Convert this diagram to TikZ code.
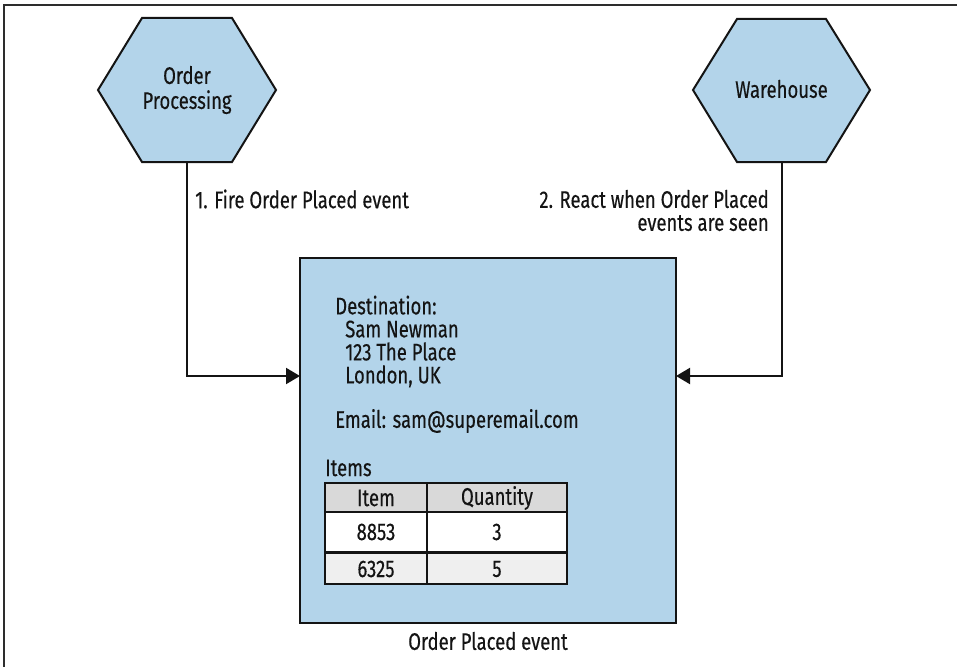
\documentclass[tikz,border=0pt]{standalone}
\usepackage{fontspec}
\setmainfont[FakeStretch=0.77, FakeBold=0.3]{Fira Sans}
\usetikzlibrary{arrows.meta}
\definecolor{boxblue}{RGB}{179,212,234}
\definecolor{hdrgray}{RGB}{217,217,217}
\definecolor{rowgray}{RGB}{239,239,239}
\definecolor{ink}{RGB}{20,20,20}
\definecolor{framegray}{RGB}{45,45,45}
\begin{document}
\begin{tikzpicture}[x=0.75pt,y=-0.75pt,
  every node/.style={font=\fontsize{18}{17.25}\selectfont, text=ink, inner sep=0pt},
  hexa/.style={draw=ink, fill=boxblue, line width=1.5pt, line join=miter},
  conn/.style={draw=ink, line width=1.5pt, -{Triangle[length=10.5pt,width=12pt]}},
  cell/.style={draw=ink, line width=1.5pt}
]
\useasboundingbox (0,0) rectangle (957,667);
% frame
\draw[framegray, line width=1.5pt] (4,667) -- (4,5) -- (957,5);

% hexagons
\draw[hexa] (98,90) -- (142,18) -- (232,18) -- (276,90) -- (232,162) -- (142,162) -- cycle;
\node[align=center] (op) at (187,90) {Order\\[1.5pt]Processing};
\coordinate (opb) at (187,162);

\draw[hexa] (693,90) -- (737,19) -- (826,19) -- (870,90) -- (826,162) -- (737,162) -- cycle;
\node (wh) at (781.5,89) {Warehouse};
\coordinate (whb) at (781.5,162);

% event box
\node[draw=ink, fill=boxblue, line width=1.5pt, minimum width=282pt, minimum height=273.75pt] (box) at (488,440.5) {};
\coordinate (inL) at (300,376);
\coordinate (inR) at (676,376);

% connectors
\draw[conn] (opb) |- (inL);
\draw[conn] (whb) |- (inR);

% connector labels
\node[anchor=west] (l1) at (195,199) {1. Fire Order Placed event};
\node[anchor=east, align=right] (l2) at (769,210.5) {2. React when Order Placed\\events are seen};

% box contents
\node[anchor=west, align=left] (dest) at (335,341.5) {Destination:\\\hspace*{7.5pt}Sam Newman\\\hspace*{7.5pt}123 The Place\\\hspace*{7.5pt}London, UK};
\node[anchor=west] (email) at (335,421) {Email: sam@superemail.com};
\node[anchor=west] (items) at (325,468) {Items};

% table
\fill[hdrgray] (325,483) rectangle (567,512);
\fill[white] (325,512) rectangle (567,552);
\fill[rowgray] (325,553) rectangle (567,584);
\draw[cell] (325,483) rectangle (567,584);
\draw[cell] (325,512) -- (567,512);
\draw[cell, line width=2pt] (325,552.5) -- (567,552.5);
\draw[cell] (427,483) -- (427,584);
\node (h1) at (376,498) {Item};
\node (h2) at (497,498) {Quantity};
\node (r11) at (376,532) {8853};
\node (r12) at (497,532) {3};
\node (r21) at (376,569) {6325};
\node (r22) at (497,569) {5};

% caption
\node (cap) at (488,641) {Order Placed event};
\end{tikzpicture}
\end{document}
